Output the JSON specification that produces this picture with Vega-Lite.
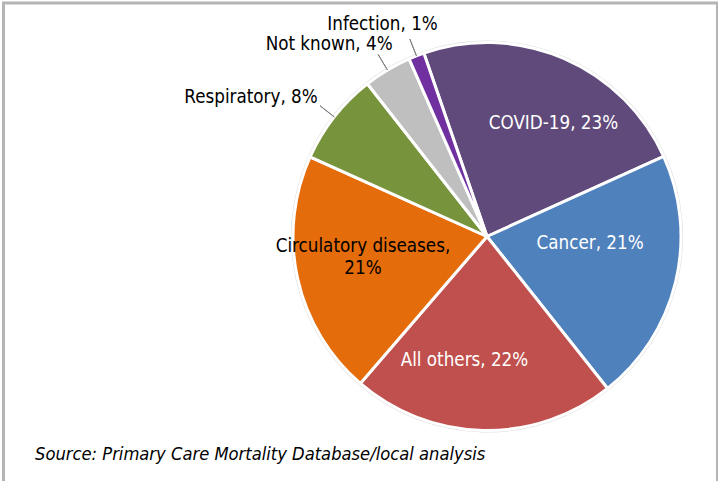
{
  "$schema": "https://vega.github.io/schema/vega-lite/v6.json",
  "width": 714,
  "height": 484,
  "autosize": {"type": "none"},
  "padding": {"left": 3.5, "top": 3, "right": 0.5, "bottom": -6},
  "background": "white",
  "config": {
    "view": {"stroke": "#b4b4b4", "strokeWidth": 3},
    "font": "DejaVu Sans Condensed, DejaVu Sans",
    "text": {"font": "DejaVu Sans Condensed, DejaVu Sans", "fontSize": 18.67}
  },
  "title": {
    "text": "Source: Primary Care Mortality Database/local analysis",
    "orient": "bottom",
    "anchor": "start",
    "frame": "group",
    "dx": 31.5,
    "offset": -27,
    "baseline": "alphabetic",
    "font": "DejaVu Sans Condensed, DejaVu Sans",
    "fontSize": 18.2,
    "fontStyle": "italic",
    "fontWeight": "normal",
    "color": "#000000"
  },
  "data": {
    "values": [
      {"category": "COVID-19", "value": 23.5, "label": "COVID-19, 23%"},
      {"category": "Cancer", "value": 21.1, "label": "Cancer, 21%"},
      {"category": "All others", "value": 22.0, "label": "All others, 22%"},
      {"category": "Circulatory diseases", "value": 20.4, "label": "Circulatory diseases,\n21%"},
      {"category": "Respiratory", "value": 7.7, "label": "Respiratory, 8%"},
      {"category": "Not known", "value": 4.0, "label": "Not known, 4%"},
      {"category": "Infection", "value": 1.3, "label": "Infection, 1%"}
    ]
  },
  "transform": [{"window": [{"op": "row_number", "as": "rank"}]}],
  "encoding": {
    "theta": {
      "field": "value",
      "type": "quantitative",
      "stack": true,
      "scale": {"type": "linear", "domain": [0, 100], "range": [-0.3316, 5.9516], "zero": false, "nice": false}
    },
    "order": {"field": "rank", "type": "quantitative"},
    "x": {"value": 483.5},
    "y": {"value": 233.5}
  },
  "layer": [
    {
      "mark": {"type": "arc", "outerRadius": 196, "fill": "#8c8c8c", "opacity": 0.3}
    },
    {
      "mark": {"type": "arc", "outerRadius": 194, "stroke": "white", "strokeWidth": 3},
      "encoding": {
        "color": {
          "field": "category",
          "type": "nominal",
          "scale": {
            "domain": ["COVID-19", "Cancer", "All others", "Circulatory diseases", "Respiratory", "Not known", "Infection"],
            "range": ["#604A7B", "#4F81BD", "#C0504D", "#E46C0A", "#77933C", "#BFBFBF", "#7030A0"]
          },
          "legend": null
        }
      }
    },
    {
      "mark": {"type": "arc", "innerRadius": 194, "outerRadius": 212, "padAngle": 0.6, "fillOpacity": 0, "stroke": "#7f7f7f", "strokeWidth": 1},
      "encoding": {
        "strokeOpacity": {
          "condition": {"test": "indexof(['Respiratory','Not known','Infection'], datum.category) >= 0", "value": 1},
          "value": 0
        }
      }
    },
    {
      "mark": {"type": "text", "radius": 125, "dx": 17, "dy": 1, "fill": "white"},
      "encoding": {"text": {"condition": {"test": "datum.category === 'COVID-19'", "field": "label"}, "value": ""}}
    },
    {
      "mark": {"type": "text", "radius": 105, "dx": 1, "dy": -18, "fill": "white"},
      "encoding": {"text": {"condition": {"test": "datum.category === 'Cancer'", "field": "label"}, "value": ""}}
    },
    {
      "mark": {"type": "text", "radius": 125, "dx": -20, "dy": -1.5, "fill": "white"},
      "encoding": {"text": {"condition": {"test": "datum.category === 'All others'", "field": "label"}, "value": ""}}
    },
    {
      "mark": {"type": "text", "radius": 125, "dx": -2, "dy": -17.5, "fill": "#000000", "lineBreak": "\n", "lineHeight": 22},
      "encoding": {"text": {"condition": {"test": "datum.category === 'Circulatory diseases'", "field": "label"}, "value": ""}}
    },
    {
      "mark": {"type": "text", "radius": 215, "dx": 0, "dy": -7, "align": "right", "fill": "#000000"},
      "encoding": {"text": {"condition": {"test": "datum.category === 'Respiratory'", "field": "label"}, "value": ""}}
    },
    {
      "mark": {"type": "text", "radius": 215, "dx": 16, "dy": -8, "align": "right", "fill": "#000000"},
      "encoding": {"text": {"condition": {"test": "datum.category === 'Not known'", "field": "label"}, "value": ""}}
    },
    {
      "mark": {"type": "text", "radius": 225, "dx": -22.6, "dy": -2.5, "fill": "#000000"},
      "encoding": {"text": {"condition": {"test": "datum.category === 'Infection'", "field": "label"}, "value": ""}}
    }
  ]
}
